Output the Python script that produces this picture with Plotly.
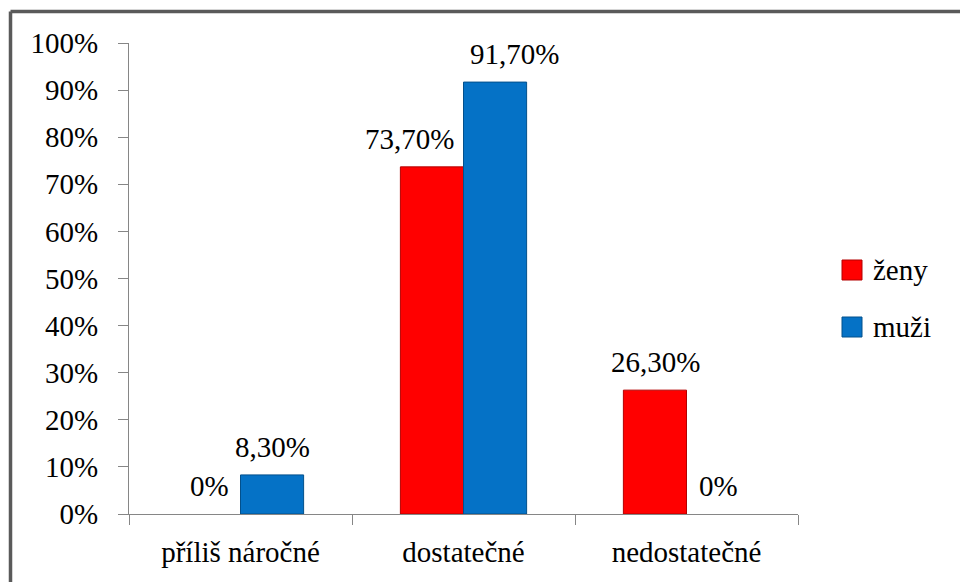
import plotly.graph_objects as go

categories = ["příliš náročné", "dostatečné", "nedostatečné"]
zeny = [0.0, 73.7, 26.3]
muzi = [8.3, 91.7, 0.0]
series_names = ["ženy", "muži"]
# horizontal nudges (px) of the value labels, per series and category
label_nudge_zeny = [0, -23, 0]
label_nudge_muzi = [0, 19, 0]

FONT = "Liberation Serif, DejaVu Serif, serif"
FS = 29

RED = "#ff0000"
RED_EDGE = "#b30000"
BLUE = "#0572c6"
BLUE_EDGE = "#03508c"
colors = [RED, BLUE]
edges = [RED_EDGE, BLUE_EDGE]


def fmt(v):
    if v == 0:
        return "0%"
    return f"{v:.2f}".replace(".", ",") + "%"


def edge_widths(vals):
    return [0 if v == 0 else 1 for v in vals]


fig = go.Figure()
for name, vals, c, e in zip(series_names, (zeny, muzi), colors, edges):
    fig.add_trace(go.Bar(
        name=name, x=categories, y=[v / 100 for v in vals],
        marker=dict(color=c, line=dict(color=e, width=edge_widths(vals))),
        showlegend=False,
    ))

L, R, T, B = 129, 162, 43, 68
W, H = 960, 582
pw, ph = W - L - R, H - T - B


def px_x(p):
    return (p - L) / pw


def px_y(p):
    return (H - B - p) / ph


# value labels above each bar
bar_px = 63
annotations = []
for vals, sign, nudges in ((zeny, -1, label_nudge_zeny), (muzi, 1, label_nudge_muzi)):
    for cat, v, nd in zip(categories, vals, nudges):
        annotations.append(dict(
            x=cat, y=v / 100, xref="x", yref="y", text=fmt(v),
            showarrow=False, xshift=sign * bar_px / 2 + nd, yshift=28,
            yanchor="middle", xanchor="center",
            font=dict(family=FONT, size=FS, color="#000000"),
        ))

shapes = [
    # frame around the chart area (top and left edges)
    dict(type="line", xref="paper", yref="paper",
         x0=px_x(10.5), x1=px_x(960), y0=px_y(11.5), y1=px_y(11.5),
         line=dict(color="#5a5a5a", width=3.5)),
    dict(type="line", xref="paper", yref="paper",
         x0=px_x(10.5), x1=px_x(10.5), y0=px_y(11.5), y1=px_y(582),
         line=dict(color="#5a5a5a", width=3.5)),
]

# legend: coloured squares with series names to their right
legend_rows_y = [270, 327]
for name, c, e, cy in zip(series_names, colors, edges, legend_rows_y):
    shapes.append(dict(
        type="rect", xref="paper", yref="paper",
        x0=px_x(842), x1=px_x(862), y0=px_y(cy + 10), y1=px_y(cy - 10),
        fillcolor=c, line=dict(color=e, width=1),
    ))
    annotations.append(dict(
        x=px_x(871), y=px_y(cy), xref="paper", yref="paper", text=name,
        showarrow=False, xanchor="left", yanchor="middle",
        font=dict(family=FONT, size=FS, color="#000000"),
    ))

fig.update_layout(
    width=W, height=H,
    margin=dict(l=L, r=R, t=T, b=B, pad=0),
    paper_bgcolor="white", plot_bgcolor="white",
    barmode="group", bargap=0.434, bargroupgap=0,
    font=dict(family=FONT, size=FS, color="#000000"),
    showlegend=False,
    annotations=annotations,
    shapes=shapes,
)
fig.update_yaxes(
    range=[0, 1], tickvals=[i / 10 for i in range(11)], tickformat=".0%",
    showgrid=False, zeroline=False,
    showline=True, linecolor="#868686", linewidth=1,
    ticks="outside", ticklen=10, tickcolor="#868686",
    ticklabelstandoff=14,
    tickfont=dict(family=FONT, size=FS, color="#000000"),
)
fig.update_xaxes(
    showgrid=False, zeroline=False,
    showline=True, linecolor="#868686", linewidth=1,
    ticks="outside", ticklen=10, tickcolor="#868686", tickson="boundaries",
    ticklabelstandoff=12,
    tickfont=dict(family=FONT, size=FS, color="#000000"),
)

fig.write_html("out.html")
